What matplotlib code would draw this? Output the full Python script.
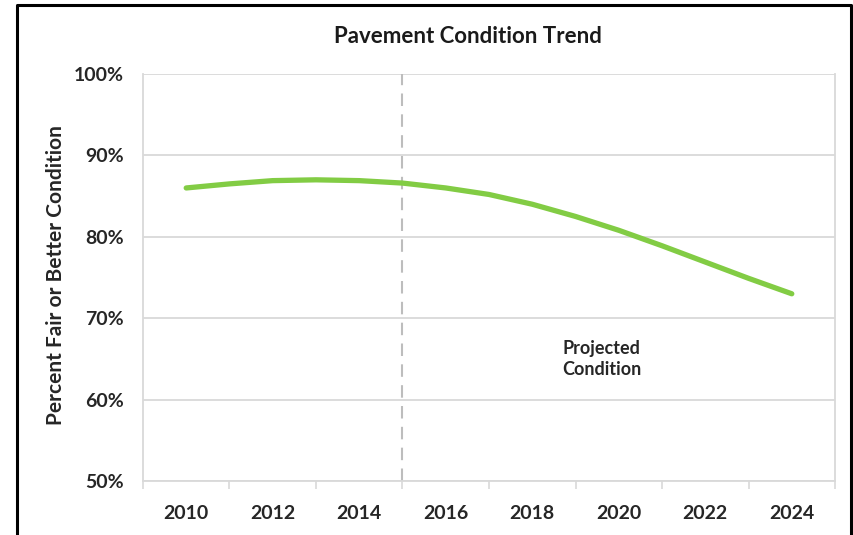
import numpy as np
import matplotlib.pyplot as plt
from matplotlib.lines import Line2D
from matplotlib.ticker import FixedLocator, PercentFormatter

plt.rcParams['font.family'] = ['Lato', 'DejaVu Sans']

# Share of pavement in fair or better condition, per year (projected after 2015)
years = [2010, 2011, 2012, 2013, 2014, 2015, 2016, 2017,
         2018, 2019, 2020, 2021, 2022, 2023, 2024]
condition = [86.0, 86.5, 86.9, 87.0, 86.9, 86.6, 86.0, 85.2,
             84.0, 82.5, 80.8, 78.9, 76.9, 74.9, 73.0]
label_years = [2010, 2012, 2014, 2016, 2018, 2020, 2022, 2024]
projection_start = 2015

fig = plt.figure(figsize=(8.54, 5.35), dpi=100)
ax = fig.add_axes([0.1674, 0.1009, 0.8104, 0.7608])

ax.plot(years, condition, color='#82cc44', lw=3.8, solid_capstyle='round', zorder=3)
ax.axvline(projection_start, color='#bdbdbd', lw=1.5, ls=(0, (6, 4)), zorder=2)
ax.text(2018.7, 65, 'Projected\nCondition', fontsize=13, fontweight='bold',
        color='#262626', ha='left', va='center', linespacing=1.25)

ax.set_xlim(2009, 2025)
ax.set_ylim(50, 100)
ax.set_yticks(np.arange(50, 101, 10))
ax.yaxis.set_major_formatter(PercentFormatter(decimals=0))
ax.set_xticks(label_years)
ax.xaxis.set_minor_locator(FixedLocator(np.arange(2009, 2026, 2)))
ax.tick_params(axis='x', which='major', length=0, pad=17)
ax.tick_params(axis='x', which='minor', length=6, color='#d9d9d9', width=1.2)
ax.tick_params(axis='y', length=0, pad=14)
for lab in ax.get_xticklabels() + ax.get_yticklabels():
    lab.set_fontsize(14)
    lab.set_fontweight('bold')
    lab.set_color('#262626')

ax.grid(axis='y', color='#d9d9d9', lw=1.3)
ax.set_axisbelow(True)
for side in ['left', 'right', 'bottom']:
    ax.spines[side].set_color('#d9d9d9')
    ax.spines[side].set_linewidth(1.3)
ax.spines['top'].set_visible(False)

ax.set_ylabel('Percent Fair or Better Condition', fontsize=15, fontweight='bold',
              color='#262626')
ax.yaxis.set_label_coords(-0.111, 0.506)
fig.text(0.548, 0.931, 'Pavement Condition Trend', fontsize=16, fontweight='bold',
         color='#1a1a1a', ha='center', va='center')

# black frame around the chart (open at the bottom)
frame_x = [0.0199, 0.0199, 0.9965, 0.9965]
frame_y = [0.0, 0.9907, 0.9907, 0.0]
fig.add_artist(Line2D(frame_x, frame_y, color='black', lw=2.2, transform=fig.transFigure))

fig.savefig('out.png', dpi=100)
